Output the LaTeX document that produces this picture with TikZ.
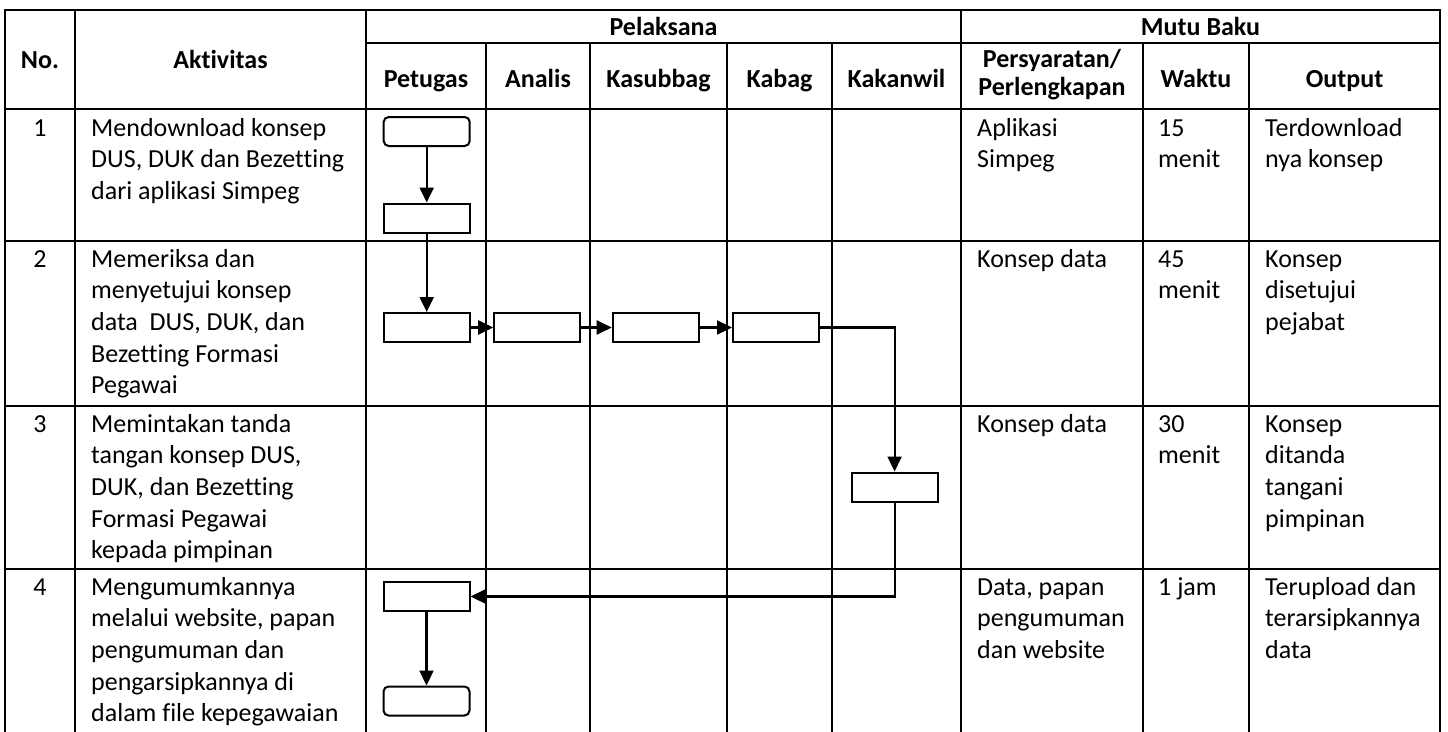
\documentclass[tikz,border=0pt]{standalone}
\usepackage{fontspec}
\setmainfont[Ligatures=NoCommon]{Carlito}
\usetikzlibrary{arrows.meta}
\newcommand{\mlines}[1]{\begin{tabular}[t]{@{}l@{}}#1\end{tabular}}
\newcommand{\mlinesc}[1]{\begin{tabular}[t]{@{}c@{}}#1\end{tabular}}
\begin{document}
\begin{tikzpicture}[x=1pt,y=-1pt,
  grid/.style={line width=2.4pt, line cap=rect},
  box/.style={draw, line width=2pt, minimum width=86pt, minimum height=29pt, inner sep=0pt, fill=white},
  term/.style={box, rounded corners=5pt},
  flow/.style={line width=2.2pt, -{Triangle[length=15pt,width=14pt]}},
  txt/.style={anchor=base west, inner sep=0pt, font=\fontsize{26}{31.7}\selectfont},
  ctxt/.style={anchor=base, inner sep=0pt, font=\fontsize{26}{31.7}\selectfont},
  hd/.style={anchor=base, inner sep=0pt, font=\fontsize{26}{28}\selectfont\bfseries},
]
\fill[white] (0,0) rectangle (1448,731);
\useasboundingbox (0,0) rectangle (1448,731);

% grid
\draw[grid] (5,731) -- (5,10) -- (1440,10) -- (1440,731);
\draw[grid] (75,10) -- (75,731);
\draw[grid] (366,10) -- (366,731);
\draw[grid] (961,10) -- (961,731);
\draw[grid] (366,43) -- (1440,43);
\foreach \x in {486,590,727,832,1143,1249} \draw[grid] (\x,43) -- (\x,731);
\foreach \y in {109,241,406,569} \draw[grid] (5,\y) -- (1440,\y);

% header
\node[hd] (hno) at (40,68) {No.};
\node[hd] (hakt) at (220.5,68) {Aktivitas};
\node[hd] (hpel) at (663.5,35) {Pelaksana};
\node[hd] (hmutu) at (1200.5,35) {Mutu Baku};
\node[hd] (hpet) at (426,87) {Petugas};
\node[hd] (hana) at (538,87) {Analis};
\node[hd] (hkas) at (658.5,87) {Kasubbag};
\node[hd] (hkab) at (779.5,87) {Kabag};
\node[hd] (hkak) at (896.5,87) {Kakanwil};
\node[hd] (hper) at (1052,67) {\mlinesc{Persyaratan/\\Perlengkapan}};
\node[hd] (hwak) at (1196,87) {Waktu};
\node[hd] (hout) at (1344.5,87) {Output};

% row numbers
\node[ctxt] (n1) at (40,136) {1};
\node[ctxt] (n2) at (40,267) {2};
\node[ctxt] (n3) at (40,432) {3};
\node[ctxt] (n4) at (40,595) {4};

% aktivitas
\node[txt] (a1) at (91,136) {\mlines{Mendownload konsep\\DUS, DUK dan Bezetting\\dari aplikasi Simpeg}};
\node[txt] (a2) at (91,267) {\mlines{Memeriksa dan\\menyetujui konsep\\data\ \ DUS, DUK, dan\\Bezetting Formasi\\Pegawai}};
\node[txt] (a3) at (91,432) {\mlines{Memintakan tanda\\tangan konsep DUS,\\DUK, dan Bezetting\\Formasi Pegawai\\kepada pimpinan}};
\node[txt] (a4) at (91,595) {\mlines{Mengumumkannya\\melalui website, papan\\pengumuman dan\\pengarsipkannya di\\dalam file kepegawaian}};

% persyaratan
\node[txt] (p1) at (977,136) {\mlines{Aplikasi\\Simpeg}};
\node[txt] (p2) at (977,267) {Konsep data};
\node[txt] (p3) at (977,432) {Konsep data};
\node[txt] (p4) at (977,595) {\mlines{Data, papan\\pengumuman\\dan website}};

% waktu
\node[txt] (w1) at (1158,136) {\mlines{15\\menit}};
\node[txt] (w2) at (1158,267) {\mlines{45\\menit}};
\node[txt] (w3) at (1158,432) {\mlines{30\\menit}};
\node[txt] (w4) at (1158,595) {1 jam};

% output
\node[txt] (o1) at (1265,136) {\mlines{Terdownload\\nya konsep}};
\node[txt] (o2) at (1265,267) {\mlines{Konsep\\disetujui\\pejabat}};
\node[txt] (o3) at (1265,432) {\mlines{Konsep\\ditanda\\tangani\\pimpinan}};
\node[txt] (o4) at (1265,595) {\mlines{Terupload dan\\terarsipkannya\\data}};

% flow boxes
\node[term] (s1) at (426.7,131.5) {};
\node[box] (b1) at (426.7,218) {};
\node[box] (b2) at (426.7,327.5) {};
\node[box] (b3) at (537.2,327.5) {};
\node[box] (b4) at (655.7,327.5) {};
\node[box] (b5) at (776,327.5) {};
\node[box] (b6) at (894.6,487) {};
\node[box] (b7) at (426.5,596.5) {};
\node[term] (e1) at (426.5,701) {};

% connectors
\draw[flow] (s1) -- (b1);
\draw[flow] (b1) -- (b2);
\draw[flow] (b2) -- (b3);
\draw[flow] (b3) -- (b4);
\draw[flow] (b4) -- (b5);
\draw[flow] (b5.east) -| (b6.north);
\draw[flow] (b6.south) |- (b7.east);
\draw[flow] (b7) -- (e1);
\end{tikzpicture}
\end{document}
